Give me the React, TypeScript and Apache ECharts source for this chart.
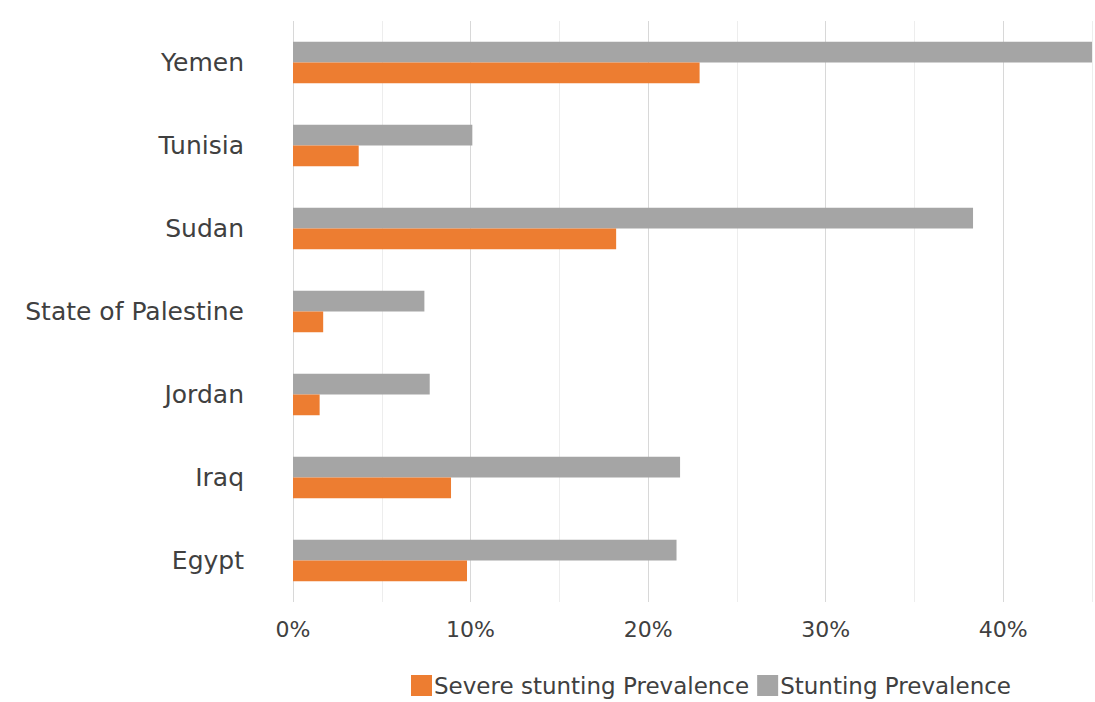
import React, { useEffect, useRef } from "react";
import * as echarts from "echarts";

const countries = ["Egypt", "Iraq", "Jordan", "State of Palestine", "Sudan", "Tunisia", "Yemen"];
const severeStunting = [9.8, 8.9, 1.5, 1.7, 18.2, 3.7, 22.9];
const stunting = [21.6, 21.8, 7.7, 7.4, 38.3, 10.1, 46.4];
const xTicks = [0, 10, 20, 30, 40];

export default function App() {
  const ref = useRef<HTMLDivElement>(null);
  useEffect(() => {
    document.body.style.margin = "0";
    const chart = echarts.init(ref.current!, null, { renderer: "svg" });
    const font = "DejaVu Sans";
    chart.setOption({
      animation: false,
      grid: { left: 293, right: 0, top: 21, bottom: 100, containLabel: false },
      legend: {
        left: 406,
        top: 669,
        itemWidth: 21,
        itemHeight: 21,
        itemGap: 8,
        icon: "rect",
        textStyle: { fontFamily: font, fontSize: 23, color: "#404040", padding: [0, 0, 0, -3] },
        data: ["Severe stunting Prevalence", "Stunting Prevalence"],
      },
      xAxis: {
        type: "value",
        min: 0,
        max: 45,
        interval: 5,
        axisLine: { show: false },
        axisTick: { show: false },
        axisLabel: {
          margin: 16,
          fontFamily: font,
          fontSize: 22,
          color: "#404040",
          formatter: (v: number) => (xTicks.includes(v) ? v + "%" : ""),
        },
        splitLine: { show: true, lineStyle: { color: ["#d8d8d8", "#ededed"], width: 1 } },
      },
      yAxis: {
        type: "category",
        data: countries,
        axisLine: { show: false },
        axisTick: { show: false },
        axisLabel: { margin: 49, fontFamily: font, fontSize: 25, color: "#404040" },
      },
      series: [
        {
          name: "Stunting Prevalence",
          type: "bar",
          data: stunting,
          itemStyle: { color: "#A5A5A5" },
          barGap: "0%",
          barCategoryGap: "50%",
          clip: true,
        },
        {
          name: "Severe stunting Prevalence",
          type: "bar",
          data: severeStunting,
          itemStyle: { color: "#ED7D31" },
          barGap: "0%",
          barCategoryGap: "50%",
          clip: true,
        },
      ],
    });
    return () => chart.dispose();
  }, []);
  return <div ref={ref} style={{ width: 1095, height: 702 }} />;
}
